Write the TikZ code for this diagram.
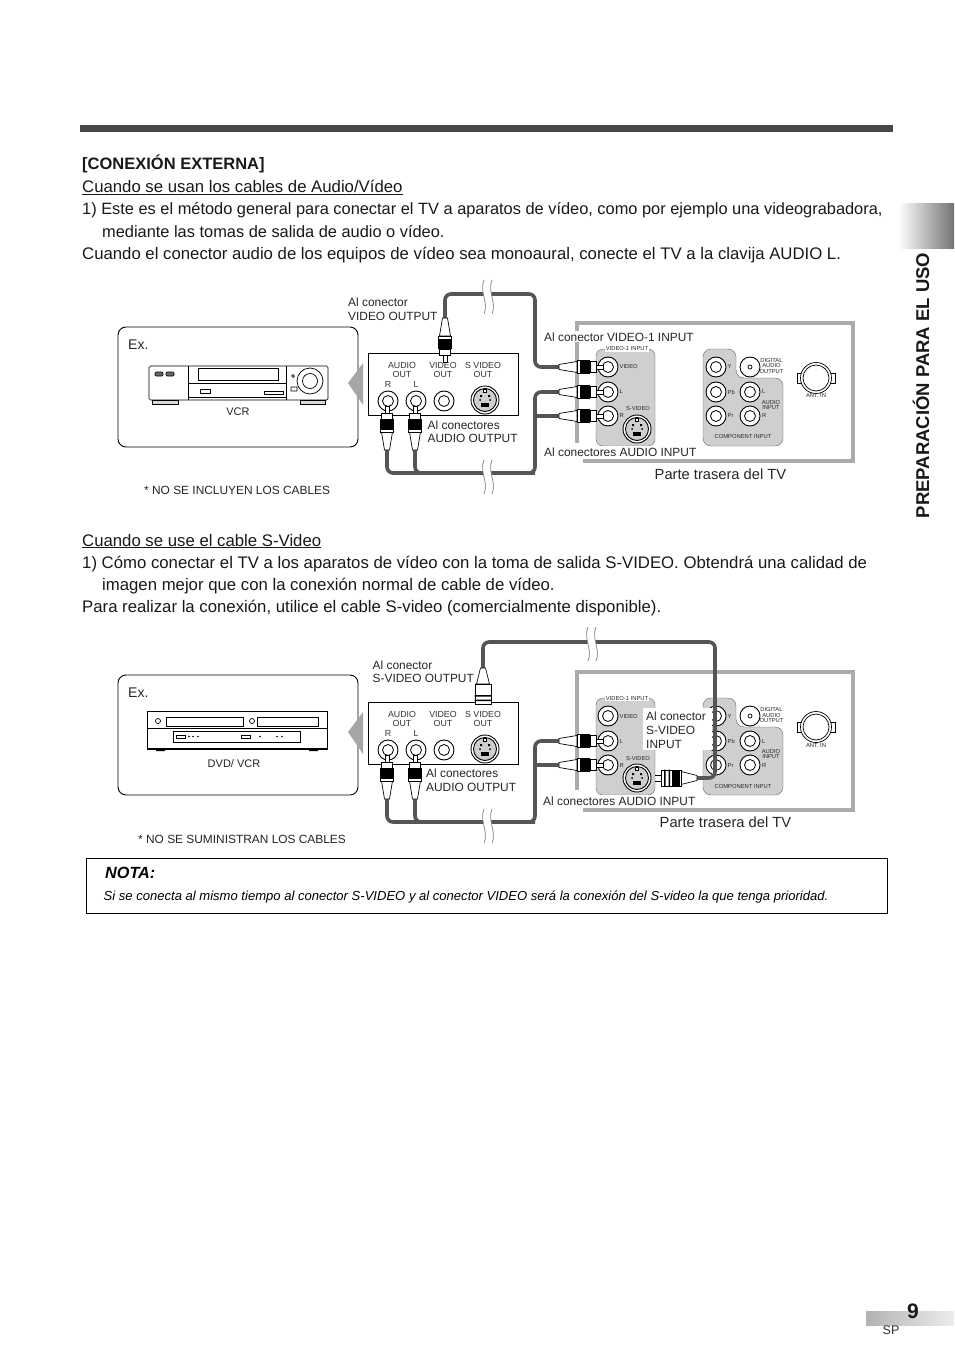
\documentclass[tikz,border=0pt]{standalone}
\usepackage{fontspec}
\setmainfont{Liberation Sans}
\usetikzlibrary{arrows.meta,positioning,calc}
\definecolor{cablegray}{HTML}{555555}
\definecolor{framegray}{HTML}{ABABAB}
\definecolor{panelgray}{HTML}{CFCFCF}
\newcommand{\fsize}[1]{\fontsize{#1}{#1}\selectfont}
\tikzset{
  cable/.style={line width=3.6pt, cablegray, rounded corners=6pt},
  body/.style={anchor=base west, inner sep=0pt, font=\fsize{16.75}, text=black!90},
  callout/.style={anchor=base west, inner sep=0pt, font=\fsize{11.9}, text=black!85},
  tiny/.style={inner sep=0pt, font=\fsize{8.8}, text=black!80},
  micro/.style={inner sep=0pt, font=\fsize{5.8}, text=black!85},
  thin line/.style={line width=0.7pt},
  jack/.pic={
    \draw[line width=0.9pt, fill=white] (0,0) circle (10);
    \draw[line width=0.8pt, fill=white] (0,0) circle (5.5);
  },
  sjack/.pic={
    \draw[line width=0.9pt, fill=white] (0,0) circle (14);
    \draw[line width=0.9pt, fill=panelgray] (0,0) circle (11.5);
    \fill (-4,3) rectangle (4,7);
    \fill (-5,-5) rectangle (-3,-3) (3,-3) rectangle (5,-5);
    \fill (-5,0) circle (1) (5,0) circle (1);
    \draw[fill=white] (-1.5,-11) rectangle (1.5,-8);
  },
  rcaplug/.pic={
    \draw[thin line, fill=white] (0,-2.5) -- (18,-5.5) -- (18,5.5) -- (0,2.5) -- cycle;
    \draw[thin line, fill=white] (18,-6.5) rectangle (21,6.5);
    \fill (21,-7) rectangle (31,7);
    \draw[thin line, fill=white] (31,-5.5) rectangle (37,5.5);
    \draw[thin line, fill=white] (37,-2) rectangle (44,2);
  },
  svplug/.pic={
    \draw[thin line, fill=white] (0,-2.5) -- (16,-6.5) -- (16,6.5) -- (0,2.5) -- cycle;
    \draw[thin line, fill=white] (16,-8) rectangle (36,8);
    \fill (27,-8.5) rectangle (28.5,8.5) (31.5,-8.5) rectangle (33,8.5);
  },
  cutmark/.pic={
    \fill[white] (-4,-17) .. controls (-9,-6) and (1,6) .. (-4,17) -- (4,17) .. controls (9,6) and (-1,-6) .. (4,-17) -- cycle;
    \draw[gray, thin line] (-4,-17) .. controls (-9,-6) and (1,6) .. (-4,17);
    \draw[gray, thin line] (4,-17) .. controls (-1,-6) and (9,6) .. (4,17);
  },
}
\begin{document}
\begin{tikzpicture}[x=1pt, y=-1pt]
  \useasboundingbox (0,0) rectangle (954,1348);
  \fill[white] (0,0) rectangle (954,1348);

  % Page furniture
  \fill[black!72] (80,125) rectangle (893,132);
  \shade[left color=white, right color=black!55] (898,204) rectangle (954,249);
  \node[rotate=90, inner sep=0pt, font=\bfseries\fsize{18.5}, text=black!90] (sidetitle) at (921,385.5) {PREPARACIÓN PARA EL USO};
  \shade[left color=black!30, right color=black!7] (866,1311) rectangle (954,1325);
  \node[inner sep=0pt, font=\bfseries\fsize{21}, text=black!90] (pagenum) at (913,1311) {9};
  \node[inner sep=0pt, font=\fsize{12.5}, text=black!80] (pagelang) at (891,1330) {SP};

  % First block of text
  \node[body, font=\bfseries\fsize{16.5}] (headext) at (82,170) {[CONEXIÓN EXTERNA]};
  \node[body] (subav) at (82,193) {\underline{Cuando se usan los cables de Audio/Vídeo}};
  \node[body, font=\fsize{16.38}] (lineA) at (82,215) {1) Este es el método general para conectar el TV a aparatos de vídeo, como por ejemplo una videograbadora,};
  \node[body, font=\fsize{16.38}] (lineB) at (102,237) {mediante las tomas de salida de audio o vídeo.};
  \node[body] (lineC) at (82,259) {Cuando el conector audio de los equipos de vídeo sea monoaural, conecte el TV a la clavija AUDIO L.};

  % Second block of text
  \node[body] (subsv) at (82,546) {\underline{Cuando se use el cable S-Video}};
  \node[body] (lineD) at (82,568) {1) Cómo conectar el TV a los aparatos de vídeo con la toma de salida S-VIDEO. Obtendrá una calidad de};
  \node[body] (lineE) at (102,590) {imagen mejor que con la conexión normal de cable de vídeo.};
  \node[body] (lineF) at (82,612) {Para realizar la conexión, utilice el cable S-video (comercialmente disponible).};

  % Example boxes
  \foreach \dy/\n in {0/a,348/b}{
    \begin{scope}[shift={(0,\dy)}]
      \draw[line width=0.9pt, rounded corners=8pt] (118,327) rectangle (358,447);
      \node[inner sep=0pt, anchor=base west, font=\fsize{14}, text=black!85] (ex\n) at (128,349.5) {Ex.};
    \end{scope}
  }

  % VCR
  \draw[thin line, rounded corners=1.5pt, fill=white] (149,366) rectangle (328,400);
  \draw[thin line] (188,366) -- (188,400) (286,366) -- (286,400) (188,397) -- (286,397) (188,383) -- (286,383);
  \draw[thin line] (198,368) rectangle (278,380);
  \draw[thin line, fill=black!60, rounded corners=1pt] (155,372) rectangle (163,376) (166,372) rectangle (174,376);
  \draw[thin line] (200,389) rectangle (210,393) (264,391) rectangle (283,394);
  \draw[thin line] (310,381) circle (13) (310,381) circle (7.5) (293,376) circle (1.5) (291,387) rectangle (297,391);
  \draw[thin line, fill=black!15] (152,400) rectangle (178,404) (300,400) rectangle (325,404);
  \node[font=\fsize{11}, inner sep=0pt, text=black!85] (vcrname) at (238,412) {VCR};

  % DVD/VCR
  \draw[thin line] (147,711) rectangle (327,749);
  \draw[line width=1.2pt] (147,749) -- (327,749);
  \draw[thin line] (147,728) -- (327,728);
  \draw[thin line] (166,717) rectangle (243,726) (257,717) rectangle (318,726);
  \draw[thin line] (158,721) circle (2.5) (252,721) circle (2.5);
  \draw[thin line] (173,731) rectangle (300,742);
  \draw[thin line] (176,735) rectangle (185,738) (241,735) rectangle (250,738);
  \foreach \x in {189,193,198,260,277,282}
    \fill (\x,736.5) circle (0.9);
  \fill (156,749) rectangle (165,751) (309,749) rectangle (318,751);
  \node[font=\fsize{11}, inner sep=0pt, text=black!85] (dvdname) at (234,764) {DVD/ VCR};

  % Footnotes under the boxes
  \node[anchor=base west, inner sep=0pt, font=\fsize{11.9}, text=black!85] (noteA) at (144,494.5) {* NO SE INCLUYEN LOS CABLES};
  \node[anchor=base west, inner sep=0pt, font=\fsize{11.9}, text=black!85] (noteB) at (138,843.5) {* NO SE SUMINISTRAN LOS CABLES};

  % Output panel and TV rear, twice
  \foreach \dy/\n/\lft in {0/a/443,349/b/441}{
    \begin{scope}[shift={(0,\dy)}]
      % TV frame
      \draw[framegray, line width=3.6pt] (583,461) -- (853,461) -- (853,323) -- (577,323) -- (577,\lft);
      % Video-1 inputs
      \fill[panelgray, draw=black!60, rounded corners=7pt] (596,349) rectangle (655,446);
      \node[micro, fill=white, inner xsep=1pt, inner ysep=1pt] (vidhead\n) at (627,349) {VIDEO-1 INPUT};
      \foreach \y/\t in {367/VIDEO,392/L,416/R}{
        \pic at (608,\y) {jack};
        \node[micro, anchor=west] (vid\t\n) at (619.5,\y) {\t};
      }
      \pic at (637,429) {sjack};
      \node[micro] (svlab\n) at (638,409) {S-VIDEO};
      % Component inputs
      \fill[panelgray, draw=black!60, rounded corners=8pt] (703,349) -- (736,349) -- (736,378) -- (783,378) -- (783,446) -- (703,446) -- cycle;
      \foreach \y/\t in {367/Y,392/Pb,416/Pr}{
        \pic at (716,\y) {jack};
        \node[micro, anchor=west] (comp\t\n) at (727.5,\y) {\t};
      }
      \foreach \y/\t in {392/L,416/R}{
        \pic at (750,\y) {jack};
        \node[micro, anchor=west] (aud\t\n) at (762,\y) {\t};
      }
      \draw[line width=0.9pt, fill=white] (750,367) circle (10);
      \draw[thin line, fill=white] (750,367) circle (2);
      \node[micro, align=center] (digout\n) at (771.5,366) {DIGITAL\\[-0.5pt]AUDIO\\[-0.5pt]OUTPUT};
      \node[micro, align=center] (audin\n) at (771,405) {AUDIO\\[-0.5pt]INPUT};
      \node[micro] (compin\n) at (743,437) {COMPONENT INPUT};
      % Antenna
      \draw[thin line] (797,373) rectangle (802,383) (830,373) rectangle (835,383);
      \draw[thin line, fill=white] (816,378) circle (15.5);
      \draw[thin line] (816,378) circle (13);
      \node[micro] (ant\n) at (816,396) {ANT. IN};
      % Output panel
      \node[draw, thin line, fill=white, inner sep=0pt, minimum width=150pt, minimum height=62pt] (panel\n) at (443,384) {};
      \fill[black!35] (348,383) -- (363,363) -- (363,405) -- cycle;
      \foreach \x/\t/\u in {402/AUDIO/a,443/VIDEO/v,483/S VIDEO/s}{
        \node[tiny] (lab\u\n) at (\x,365) {\t};
        \node[tiny] (out\u\n) at (\x,374) {OUT};
      }
      \node[tiny] (labR\n) at (388,384.5) {R};
      \node[tiny] (labL\n) at (416,384.5) {L};
      \foreach \x in {388,416,444}
        \pic at (\x,401) {jack};
      \pic at (485,400) {sjack};
    \end{scope}
  }

  % Cables of the first picture
  \coordinate (vidout) at (445,318);
  \coordinate (vidtop) at (535,294);
  \coordinate (vidin) at (559,367);
  \coordinate (audR) at (387,450);
  \coordinate (audL) at (415,450);
  \coordinate (audlow) at (535,473);
  \coordinate (inL) at (559,392);
  \coordinate (inR) at (559,416);
  \draw[cable] (vidout) |- (vidtop) |- (vidin);
  \draw[cable] (audR) |- (audlow) |- (inL);
  \draw[cable] (audL) |- (audlow);
  \draw[cable, rounded corners=0pt] (inR) -- (inR -| audlow);
  \pic[rotate=-90] at (vidout) {rcaplug};
  \pic[rotate=90] at (audR) {rcaplug};
  \pic[rotate=90] at (audL) {rcaplug};
  \pic at (vidin) {rcaplug};
  \pic at (inL) {rcaplug};
  \pic at (inR) {rcaplug};
  \pic at (488,297) {cutmark};
  \pic at (488,477) {cutmark};

  % Cables of the second picture
  \coordinate (svout) at (483,668);
  \coordinate (svtop) at (715,642);
  \coordinate (svin) at (697,778);
  \coordinate (audRb) at (387,799);
  \coordinate (audLb) at (415,799);
  \coordinate (audlowb) at (535,822);
  \coordinate (inLb) at (559,741);
  \coordinate (inRb) at (559,765);
  \node[fill=white, inner sep=0pt, minimum width=69pt, minimum height=42pt] (svbox) at (677.5,729) {};
  \draw[cable] (svout) |- (svtop) |- (svin);
  \draw[cable] (audRb) |- (audlowb) |- (inLb);
  \draw[cable] (audLb) |- (audlowb);
  \draw[cable, rounded corners=0pt] (inRb) -- (inRb -| audlowb);
  \pic[rotate=-90] at (svout) {svplug};
  \pic[rotate=180] at (svin) {svplug};
  \fill (672,770.5) rectangle (680,785.5);
  \draw[thin line] (661,775) -- (655,775) (661,781) -- (655,781);
  \pic[rotate=90] at (audRb) {rcaplug};
  \pic[rotate=90] at (audLb) {rcaplug};
  \pic at (inLb) {rcaplug};
  \pic at (inRb) {rcaplug};
  \pic at (592,644) {cutmark};
  \pic at (488,826) {cutmark};

  % Callouts of the first picture
  \node[callout] (coA) at (348,306) {Al conector};
  \node[callout] (coB) at (348,320) {VIDEO OUTPUT};
  \node[callout] (coC) at (427.5,429) {Al conectores};
  \node[callout] (coD) at (427.5,442.5) {AUDIO OUTPUT};
  \node[callout, fill=white, inner ysep=1pt] (coE) at (544,341) {Al conector VIDEO-1 INPUT};
  \node[callout, fill=white, inner ysep=1pt] (coF) at (544,456) {Al conectores AUDIO INPUT};
  \node[callout, font=\fsize{14.7}] (coG) at (654.5,479) {Parte trasera del TV};

  % Callouts of the second picture
  \node[callout] (coH) at (372.5,669) {Al conector};
  \node[callout] (coI) at (372.5,682.5) {S-VIDEO OUTPUT};
  \node[callout] (coJ) at (426,777.5) {Al conectores};
  \node[callout] (coK) at (426,791) {AUDIO OUTPUT};
  \node[callout] (coL) at (646,720) {Al conector};
  \node[callout] (coM) at (646,734) {S-VIDEO};
  \node[callout] (coN) at (646,748) {INPUT};
  \node[callout, fill=white, inner ysep=1pt] (coO) at (543,805) {Al conectores AUDIO INPUT};
  \node[callout, font=\fsize{14.7}] (coP) at (659.5,827) {Parte trasera del TV};

  % Note box
  \node[draw, thin line, inner sep=0pt, minimum width=801pt, minimum height=55pt] (notabox) at (486.5,885.5) {};
  \node[anchor=base west, inner sep=0pt, font=\bfseries\itshape\fsize{16.2}] (notatitle) at (105,878.5) {NOTA:};
  \node[anchor=base west, inner sep=0pt, font=\itshape\fsize{13.05}] (notatext) at (103.5,900.5) {Si se conecta al mismo tiempo al conector S-VIDEO y al conector VIDEO será la conexión del S-video la que tenga prioridad.};
\end{tikzpicture}
\end{document}
